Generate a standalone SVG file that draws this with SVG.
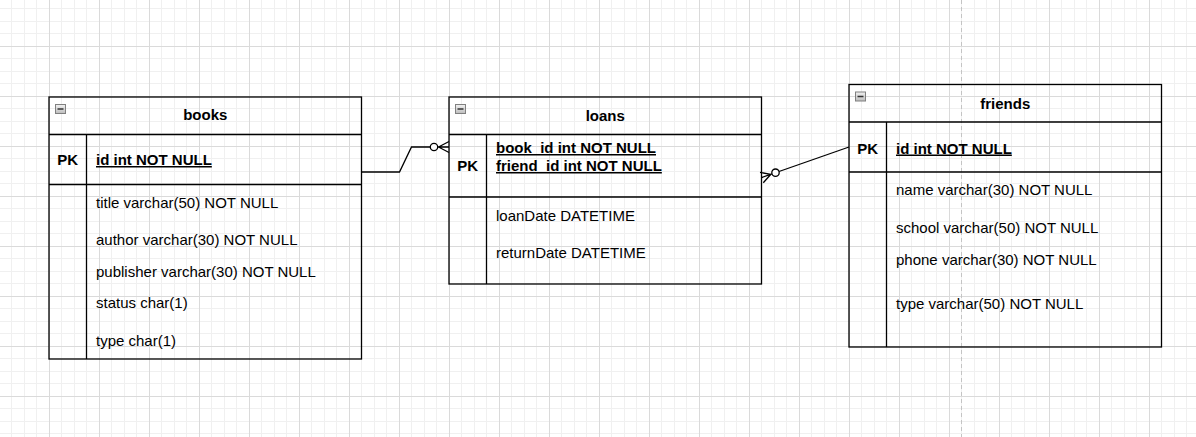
<svg xmlns="http://www.w3.org/2000/svg" width="1196" height="437" viewBox="0 0 1196 437">
<style>
.t{font-family:"Liberation Sans",Arial,sans-serif;font-size:15px;fill:#000}
.b{font-weight:bold}
.u{text-decoration:underline}
.m{text-anchor:middle}
.box{fill:none;stroke:#000;stroke-width:1.3}
.ln{stroke:#000;stroke-width:1.3;fill:none}
.edge{stroke:#000;stroke-width:1.3;fill:none}
.circ{fill:#fff;stroke:#000;stroke-width:1.3}
.ic{fill:url(#ig);stroke:#808080;stroke-width:1}
.icm{stroke:#333;stroke-width:1.5}
</style>
<defs>
<pattern id="grid" x="49" y="46" width="50" height="50" patternUnits="userSpaceOnUse">
<rect x="12" y="0" width="1" height="50" fill="#f0f0f0"/>
<rect x="25" y="0" width="1" height="50" fill="#f0f0f0"/>
<rect x="37" y="0" width="1" height="50" fill="#f0f0f0"/>
<rect x="0" y="12" width="50" height="1" fill="#f0f0f0"/>
<rect x="0" y="25" width="50" height="1" fill="#f0f0f0"/>
<rect x="0" y="37" width="50" height="1" fill="#f0f0f0"/>
<rect x="0" y="0" width="1" height="50" fill="#dadada"/>
<rect x="0" y="0" width="50" height="1" fill="#dadada"/>
</pattern>
<linearGradient id="ig" x1="0" y1="0" x2="0" y2="1">
<stop offset="0" stop-color="#f2f2f2"/>
<stop offset="1" stop-color="#bdbdbd"/>
</linearGradient>
</defs>
<rect x="0" y="0" width="1196" height="437" fill="#fff"/>
<rect x="0" y="0" width="1196" height="437" fill="url(#grid)"/>
<line x1="961.5" y1="0" x2="961.5" y2="437" stroke="#c4c4c4" stroke-width="1" stroke-dasharray="4 3"/>

<g id="connectors">
<path class="edge" d="M361,172 H399.5 L411.5,147 H430.3"/>
<path class="edge" d="M437.7,147 H449 M438.5,147 L449,141.5 M438.5,147 L449,152.5"/>
<circle class="circ" cx="434" cy="147" r="3.7"/>
<path class="edge" d="M849,147 L779,171.5"/>
<path class="edge" d="M772,173.9 L761.5,177.6 M770.9,174.3 L760,172.4 M770.9,174.3 L763.3,182.8"/>
<circle class="circ" cx="775.5" cy="172.7" r="3.7"/>
</g>

<g id="books">
<rect class="box" x="49" y="97" width="312.5" height="262"/>
<line class="ln" x1="49" y1="134.5" x2="361.5" y2="134.5"/>
<line class="ln" x1="49" y1="184.5" x2="361.5" y2="184.5"/>
<line class="ln" x1="86.5" y1="134.5" x2="86.5" y2="359"/>
<rect class="ic" x="55.5" y="104.5" width="10" height="9"/>
<line class="icm" x1="57.5" y1="109" x2="63.5" y2="109"/>
<text class="t b m" x="205.25" y="120">books</text>
<text class="t b m" x="67.75" y="165">PK</text>
<text class="t b u" x="96" y="165">id int NOT NULL</text>
<text class="t" x="96" y="208">title varchar(50) NOT NULL</text>
<text class="t" x="96" y="245">author varchar(30) NOT NULL</text>
<text class="t" x="96" y="277">publisher varchar(30) NOT NULL</text>
<text class="t" x="96" y="308">status char(1)</text>
<text class="t" x="96" y="346">type char(1)</text>
</g>

<g id="loans">
<rect class="box" x="449" y="97" width="312.5" height="187"/>
<line class="ln" x1="449" y1="134.5" x2="761.5" y2="134.5"/>
<line class="ln" x1="449" y1="197" x2="761.5" y2="197"/>
<line class="ln" x1="486.5" y1="134.5" x2="486.5" y2="284"/>
<rect class="ic" x="455.5" y="104.5" width="10" height="9"/>
<line class="icm" x1="457.5" y1="109" x2="463.5" y2="109"/>
<text class="t b m" x="605.25" y="121">loans</text>
<text class="t b m" x="467.75" y="171">PK</text>
<text class="t b u" x="496" y="153">book_id int NOT NULL</text>
<text class="t b u" x="496" y="171">friend_id int NOT NULL</text>
<text class="t" x="496" y="220.5">loanDate DATETIME</text>
<text class="t" x="496" y="258">returnDate DATETIME</text>
</g>

<g id="friends">
<rect class="box" x="849" y="84.5" width="312.5" height="262.5"/>
<line class="ln" x1="849" y1="122" x2="1161.5" y2="122"/>
<line class="ln" x1="849" y1="172" x2="1161.5" y2="172"/>
<line class="ln" x1="886.5" y1="122" x2="886.5" y2="347"/>
<rect class="ic" x="855.5" y="92" width="10" height="9"/>
<line class="icm" x1="857.5" y1="96.5" x2="863.5" y2="96.5"/>
<text class="t b m" x="1005.25" y="108.5">friends</text>
<text class="t b m" x="867.75" y="153.5">PK</text>
<text class="t b u" x="896" y="153.5">id int NOT NULL</text>
<text class="t" x="896" y="195">name varchar(30) NOT NULL</text>
<text class="t" x="896" y="233">school varchar(50) NOT NULL</text>
<text class="t" x="896" y="265">phone varchar(30) NOT NULL</text>
<text class="t" x="896" y="308.5">type varchar(50) NOT NULL</text>
</g>
</svg>
